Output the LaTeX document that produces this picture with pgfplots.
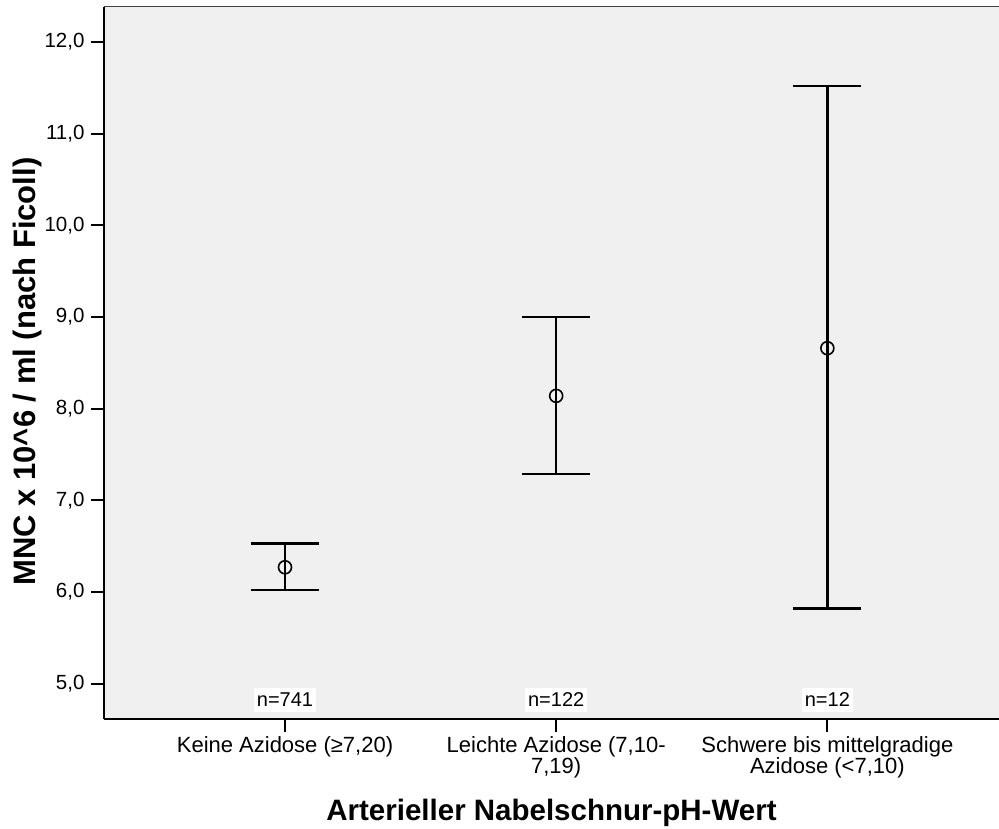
\documentclass[border=0pt]{standalone}
\usepackage{pgfplots}
\pgfplotsset{compat=1.18}
\usepackage{fontspec}
\setmainfont{Liberation Sans}
\definecolor{plotbg}{HTML}{F0F0F0}
\begin{document}
\begin{tikzpicture}
\begin{axis}[
  width=895pt, height=712pt, scale only axis,
  xmin=-0.6675, xmax=2.633,
  ymin=4.615, ymax=12.382,
  axis background/.style={fill=plotbg},
  axis lines*=left,
  axis line style={line width=2.2pt, black},
  xtick={0,1,2},
  xticklabels={{Keine Azidose (≥7,20)},{Leichte Azidose (7,10-\\7,19)},{Schwere bis mittelgradige\\Azidose (<7,10)}},
  ytick={5,6,7,8,9,10,11,12},
  yticklabels={{5,0},{6,0},{7,0},{8,0},{9,0},{10,0},{11,0},{12,0}},
  tick align=outside,
  major tick length=13pt,
  tick style={line width=2pt, black},
  yticklabel style={font=\fontsize{20.5}{22}\selectfont, xshift=-3pt},
  xticklabel style={font=\fontsize{22}{20}\selectfont, align=center, yshift=-1pt},
  ylabel={MNC x 10\textasciicircum 6 / ml (nach Ficoll)},
  ylabel style={font=\bfseries\fontsize{31}{32}\selectfont, at={(axis description cs:-0.085,0.488)}, anchor=center},
  xlabel={Arterieller Nabelschnur-pH-Wert},
  xlabel style={font=\bfseries\fontsize{29.5}{32}\selectfont, at={(axis description cs:0.5,-0.143)}, anchor=base},
  clip=false,
]
\draw[line width=1pt, black!75] (rel axis cs:0,1) -- (rel axis cs:1,1);
\addplot[
  only marks, mark=o, mark size=6.5pt, mark options={line width=1.6pt, black},
  error bars/.cd, y dir=both, y explicit, error mark=|,
  error bar style={line width=2.4pt, black},
  error mark options={line width=2.4pt, black, mark size=34pt},
] coordinates {
  (0,6.27) += (0,0.26) -= (0,0.25)
  (1,8.14) += (0,0.86) -= (0,0.85)
  (2,8.66) += (0,2.86) -= (0,2.84)
};
\foreach \i/\n in {0/741,1/122,2/12} {
  \edef\temp{\noexpand\node[fill=white, inner xsep=3pt, inner ysep=5pt, anchor=south, font=\noexpand\fontsize{20}{22}\noexpand\selectfont] at (axis cs:\i,4.615) [yshift=7pt] {n=\n};}
  \temp
}
\end{axis}
\pgfresetboundingbox
\path[use as bounding box] (-104pt,-109pt) rectangle (895pt,719pt);
\end{tikzpicture}
\end{document}
